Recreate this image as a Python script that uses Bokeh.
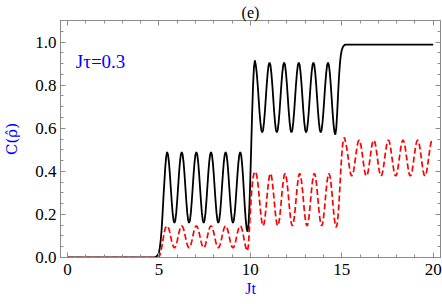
from bokeh.plotting import figure
from bokeh.models import (Label, LinearAxis, SingleIntervalTicker, Range1d,
                          PrintfTickFormatter, CustomJSTickFormatter)
from bokeh.embed import file_html
from bokeh.resources import INLINE

# sampling grid (Jt) of the curves
t_grid = [0.0] + [round(4.60 + 0.05 * i, 2) for i in range(309)]

# black solid curve C(rho)
c_black = [0.0,
    0.000, 0.000, 0.000, 0.001, 0.002, 0.004, 0.007, 0.012, 0.020, 0.045, 0.080, 0.130, 0.200, 0.280, 0.350, 0.420, 0.468, 0.490,
    0.477, 0.442, 0.388, 0.325, 0.262, 0.208, 0.173, 0.160, 0.173, 0.208, 0.262, 0.325, 0.388, 0.442, 0.477, 0.490,
    0.477, 0.442, 0.388, 0.325, 0.262, 0.208, 0.173, 0.160, 0.173, 0.208, 0.262, 0.325, 0.388, 0.442, 0.477, 0.490,
    0.477, 0.442, 0.388, 0.325, 0.262, 0.208, 0.173, 0.160, 0.173, 0.208, 0.262, 0.325, 0.388, 0.442, 0.477, 0.490,
    0.477, 0.442, 0.388, 0.325, 0.262, 0.208, 0.173, 0.160, 0.173, 0.208, 0.262, 0.325, 0.388, 0.442, 0.477, 0.490,
    0.477, 0.442, 0.388, 0.325, 0.262, 0.208, 0.173, 0.160, 0.173, 0.208, 0.262, 0.325, 0.388, 0.442, 0.477, 0.490,
    0.476, 0.436, 0.376, 0.305, 0.234, 0.174, 0.134, 0.120,
    0.150, 0.236, 0.365, 0.518, 0.670, 0.799, 0.885, 0.915,
    0.893, 0.857, 0.805, 0.743, 0.680, 0.628, 0.592, 0.580, 0.592, 0.628, 0.680, 0.743, 0.805, 0.857, 0.893, 0.905,
    0.893, 0.857, 0.805, 0.743, 0.680, 0.628, 0.592, 0.580, 0.592, 0.628, 0.680, 0.743, 0.805, 0.857, 0.893, 0.905,
    0.893, 0.857, 0.805, 0.743, 0.680, 0.628, 0.592, 0.580, 0.592, 0.628, 0.680, 0.743, 0.805, 0.857, 0.893, 0.905,
    0.893, 0.857, 0.805, 0.743, 0.680, 0.628, 0.592, 0.580, 0.592, 0.628, 0.680, 0.743, 0.805, 0.857, 0.893, 0.905,
    0.893, 0.857, 0.805, 0.743, 0.680, 0.628, 0.592, 0.580, 0.592, 0.628, 0.680, 0.743, 0.805, 0.857, 0.893, 0.905,
    0.892, 0.856, 0.802, 0.738, 0.673, 0.619, 0.583, 0.570,
    0.600, 0.670, 0.760, 0.840, 0.900, 0.940, 0.962, 0.975, 0.982, 0.986, 0.988,
    0.988, 0.988, 0.988, 0.988, 0.988, 0.988, 0.988, 0.988, 0.988, 0.988, 0.988, 0.988, 0.988, 0.988, 0.988, 0.988,
    0.988, 0.988, 0.988, 0.988, 0.988, 0.988, 0.988, 0.988, 0.988, 0.988, 0.988, 0.988, 0.988, 0.988, 0.988, 0.988,
    0.988, 0.988, 0.988, 0.988, 0.988, 0.988, 0.988, 0.988, 0.988, 0.988, 0.988, 0.988, 0.988, 0.988, 0.988, 0.988,
    0.988, 0.988, 0.988, 0.988, 0.988, 0.988, 0.988, 0.988, 0.988, 0.988, 0.988, 0.988, 0.988, 0.988, 0.988, 0.988,
    0.988, 0.988, 0.988, 0.988, 0.988, 0.988, 0.988, 0.988, 0.988, 0.988, 0.988, 0.988, 0.988, 0.988, 0.988, 0.988,
    0.988, 0.988, 0.988, 0.988, 0.988, 0.988, 0.988, 0.988, 0.988, 0.988, 0.988, 0.988, 0.988, 0.988, 0.988, 0.988,
]

# red dashed curve
c_red = [0.0,
    0.000, 0.000, 0.000, 0.000, 0.000, 0.000, 0.000, 0.000,
    0.003, 0.010, 0.025, 0.045, 0.070, 0.095, 0.118, 0.135, 0.144, 0.147,
    0.143, 0.132, 0.116, 0.096, 0.076, 0.060, 0.049, 0.045, 0.049, 0.060, 0.076, 0.096, 0.116, 0.132, 0.143, 0.147,
    0.143, 0.132, 0.116, 0.096, 0.076, 0.060, 0.049, 0.045, 0.049, 0.060, 0.076, 0.096, 0.116, 0.132, 0.143, 0.147,
    0.143, 0.132, 0.116, 0.096, 0.076, 0.060, 0.049, 0.045, 0.049, 0.060, 0.076, 0.096, 0.116, 0.132, 0.143, 0.147,
    0.143, 0.132, 0.116, 0.096, 0.076, 0.060, 0.049, 0.045, 0.049, 0.060, 0.076, 0.096, 0.116, 0.132, 0.143, 0.147,
    0.143, 0.132, 0.116, 0.096, 0.076, 0.060, 0.049, 0.045, 0.049, 0.060, 0.076, 0.096, 0.116, 0.132, 0.143, 0.147,
    0.143, 0.130, 0.111, 0.089, 0.066, 0.047, 0.034, 0.030,
    0.060, 0.130, 0.210, 0.280, 0.335, 0.370, 0.390, 0.397, 0.398,
    0.381, 0.354, 0.315, 0.269, 0.222, 0.183, 0.156, 0.147, 0.156, 0.183, 0.222, 0.269, 0.315, 0.354, 0.381, 0.390,
    0.381, 0.354, 0.315, 0.269, 0.222, 0.183, 0.156, 0.147, 0.156, 0.183, 0.222, 0.269, 0.315, 0.354, 0.381, 0.390,
    0.381, 0.354, 0.315, 0.269, 0.222, 0.183, 0.156, 0.147, 0.156, 0.183, 0.222, 0.269, 0.315, 0.354, 0.381, 0.390,
    0.381, 0.354, 0.315, 0.269, 0.222, 0.183, 0.156, 0.147, 0.156, 0.183, 0.222, 0.269, 0.315, 0.354, 0.381, 0.390,
    0.381, 0.354, 0.315, 0.269, 0.222, 0.183, 0.156, 0.147, 0.156, 0.183, 0.222, 0.269, 0.315, 0.354, 0.381, 0.390,
    0.380, 0.353, 0.313, 0.265, 0.217, 0.177, 0.150, 0.140,
    0.155, 0.195, 0.255, 0.330, 0.410, 0.475, 0.525, 0.550, 0.557,
    0.539, 0.521, 0.493, 0.462, 0.430, 0.402, 0.384, 0.378, 0.384, 0.402, 0.430, 0.462, 0.493, 0.521, 0.539, 0.545,
    0.539, 0.521, 0.493, 0.462, 0.430, 0.402, 0.384, 0.378, 0.384, 0.402, 0.430, 0.462, 0.493, 0.521, 0.539, 0.545,
    0.539, 0.521, 0.493, 0.462, 0.430, 0.402, 0.384, 0.378, 0.384, 0.402, 0.430, 0.462, 0.493, 0.521, 0.539, 0.545,
    0.539, 0.521, 0.493, 0.462, 0.430, 0.402, 0.384, 0.378, 0.384, 0.402, 0.430, 0.462, 0.493, 0.521, 0.539, 0.545,
    0.539, 0.521, 0.493, 0.462, 0.430, 0.402, 0.384, 0.378, 0.384, 0.402, 0.430, 0.462, 0.493, 0.521, 0.539, 0.545,
    0.539, 0.521, 0.493, 0.462, 0.430, 0.402, 0.384, 0.378, 0.384, 0.402, 0.430, 0.462, 0.493, 0.521, 0.539, 0.545,
    0.539,
]

x_ticks_major = 5
y_ticks_major = 0.2
title_text = "(e)"
param_text = "J\u03c4=0.3"
x_label = "Jt"
y_label = "C(\u03c1\u0302)"

FONT = "Liberation Serif"
GRAY = "#8c8c8c"
BLUE = "#0000ff"

p = figure(width=442, height=304, output_backend="svg", toolbar_location=None,
           x_range=Range1d(-0.38, 20.40), y_range=Range1d(0, 1.10),
           min_border_left=54, min_border_right=2, min_border_top=18, min_border_bottom=47)
p.xgrid.visible = False
p.ygrid.visible = False
p.outline_line_color = GRAY
p.outline_line_width = 1
p.background_fill_color = "white"
p.border_fill_color = "white"

bottom_ax = p.below[0]
left_ax = p.left[0]
bottom_ax.ticker = SingleIntervalTicker(interval=x_ticks_major, num_minor_ticks=5)
left_ax.ticker = SingleIntervalTicker(interval=y_ticks_major, num_minor_ticks=4)
left_ax.formatter = PrintfTickFormatter(format="%.1f")

blank = CustomJSTickFormatter(code="return '';")
top_ax = LinearAxis(ticker=SingleIntervalTicker(interval=x_ticks_major, num_minor_ticks=5),
                    formatter=blank)
right_ax = LinearAxis(ticker=SingleIntervalTicker(interval=y_ticks_major, num_minor_ticks=4),
                      formatter=blank)
p.add_layout(top_ax, "above")
p.add_layout(right_ax, "right")

for ax in [bottom_ax, left_ax, top_ax, right_ax]:
    ax.axis_line_color = GRAY
    ax.major_tick_line_color = GRAY
    ax.minor_tick_line_color = GRAY
    ax.major_tick_in = 5
    ax.major_tick_out = 0
    ax.minor_tick_in = 3
    ax.minor_tick_out = 0
    ax.major_label_text_font = FONT
    ax.major_label_text_font_size = "17px"
    ax.major_label_text_color = "black"
    ax.major_label_standoff = 4
bottom_ax.major_label_standoff = 6
for ax in [top_ax, right_ax]:
    ax.major_label_standoff = 0
    ax.major_label_text_font_size = "1px"

# axis titles drawn by the axes themselves; the panel title "(e)" sits on the top axis
bottom_ax.axis_label = x_label
left_ax.axis_label = y_label
top_ax.axis_label = title_text
for ax in [bottom_ax, left_ax, top_ax]:
    ax.axis_label_text_font = FONT
    ax.axis_label_text_font_style = "normal"
left_ax.axis_label_text_font = "DejaVu Serif"
bottom_ax.axis_label_text_font_size = "16px"
left_ax.axis_label_text_font_size = "15px"
bottom_ax.axis_label_text_color = BLUE
left_ax.axis_label_text_color = BLUE
top_ax.axis_label_text_font_size = "16px"
top_ax.axis_label_text_color = "black"
bottom_ax.axis_label_standoff = 2
left_ax.axis_label_standoff = 11
top_ax.axis_label_standoff = 0

p.line(t_grid, c_black, line_color="black", line_width=1.8)
p.line(t_grid, c_red, line_color="#ff0000", line_width=1.7, line_dash="6 3")

p.add_layout(Label(x=0.46, y=0.911, text=param_text, text_align="left",
                   text_baseline="middle", text_font=FONT, text_font_size="19px",
                   text_color=BLUE))

open("out.html", "w").write(file_html(p, INLINE))
